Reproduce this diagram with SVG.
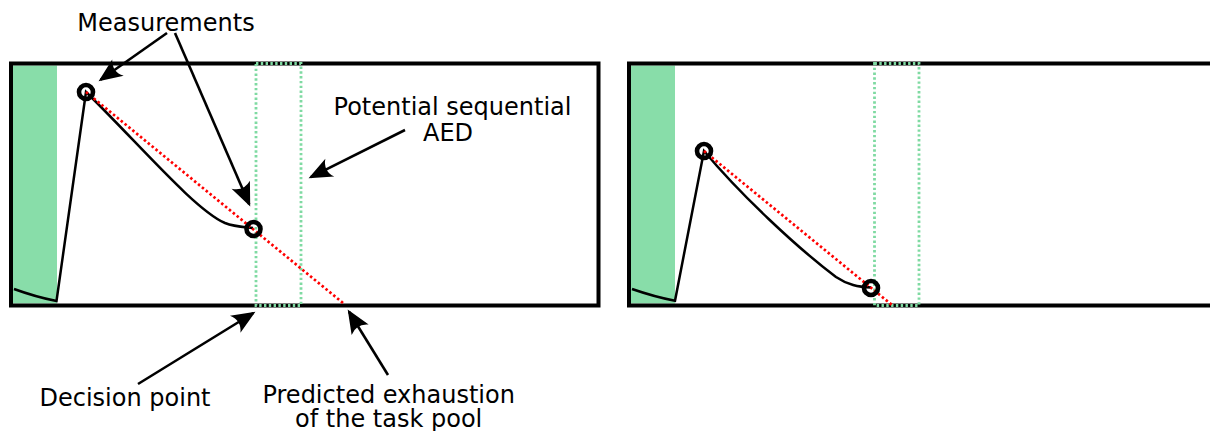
<svg xmlns="http://www.w3.org/2000/svg" width="1210" height="431" viewBox="0 0 1210 431">
<style>
.frame{fill:none;stroke:#000;stroke-width:4}
.pool{fill:#88dda9;stroke:none}
.aed{fill:none;stroke:#7fdaa2;stroke-width:2.8;stroke-dasharray:2.4,2.4}
.pred{fill:none;stroke:#ff0000;stroke-width:2.7;stroke-dasharray:2.5,2.5}
.curve{fill:none;stroke:#000;stroke-width:2.5}
.meas{fill:none;stroke:#000;stroke-width:4.6}
.arrow{fill:none;stroke:#000;stroke-width:2.6;marker-end:url(#ah)}
text{font-family:"DejaVu Sans",sans-serif;font-size:24px;fill:#000;text-anchor:middle}
</style>
<defs>
<marker id="ah" markerUnits="userSpaceOnUse" markerWidth="30" markerHeight="30" refX="-2" refY="0" viewBox="-20 -10 24 20" orient="auto" overflow="visible">
<path d="M0,0 L-19,-8 Q-13,0 -19,8 Z" fill="#000"/>
</marker>
</defs>
<rect width="1210" height="431" fill="#fff"/>
<g id="panel-left">
<rect class="pool" x="13" y="65.5" width="44" height="238"/>
<rect class="frame" x="11" y="63.5" width="587.5" height="242"/>
<rect class="aed" x="256" y="63.5" width="45" height="242"/>
<path class="curve" d="M14,289 Q36,297 56.5,301 L86,92 C140,145 195,210 225,223 C235,227 245,227 253,228"/>
<line class="pred" x1="86" y1="92" x2="343" y2="303"/>
<circle class="meas" cx="86" cy="92" r="7"/>
<circle class="meas" cx="253.5" cy="229" r="7"/>
</g>
<g id="panel-right">
<rect class="pool" x="631" y="65.5" width="44" height="238"/>
<rect class="frame" x="629" y="63.5" width="600" height="242"/>
<rect class="aed" x="874.5" y="63.5" width="44.5" height="242"/>
<path class="curve" d="M632,289 Q655,297 675,300.7 L704,151 C740,194 795,246 836,277 C848,285 858,287 871,287.5"/>
<line class="pred" x1="704" y1="151" x2="892" y2="305"/>
<circle class="meas" cx="704" cy="151" r="7"/>
<circle class="meas" cx="871" cy="288" r="7"/>
</g>
<g id="label-measurements"><text x="166" y="30.7">Measurements</text></g>
<g id="label-aed"><text x="452.5" y="115">Potential sequential<tspan x="448" y="141">AED</tspan></text></g>
<g id="label-decision"><text x="125" y="406">Decision point</text></g>
<g id="label-exhaustion"><text x="388.7" y="403">Predicted exhaustion<tspan x="388.7" y="427">of the task pool</tspan></text></g>
<g id="connectors">
<line class="arrow" x1="167" y1="33" x2="100.6" y2="79.8"/>
<line class="arrow" x1="175" y1="33" x2="249.2" y2="204.2"/>
<line class="arrow" x1="405" y1="130" x2="310.8" y2="177.1"/>
<line class="arrow" x1="138" y1="384" x2="253.3" y2="313"/>
<line class="arrow" x1="388" y1="375" x2="349" y2="311.7"/>
</g>
</svg>
